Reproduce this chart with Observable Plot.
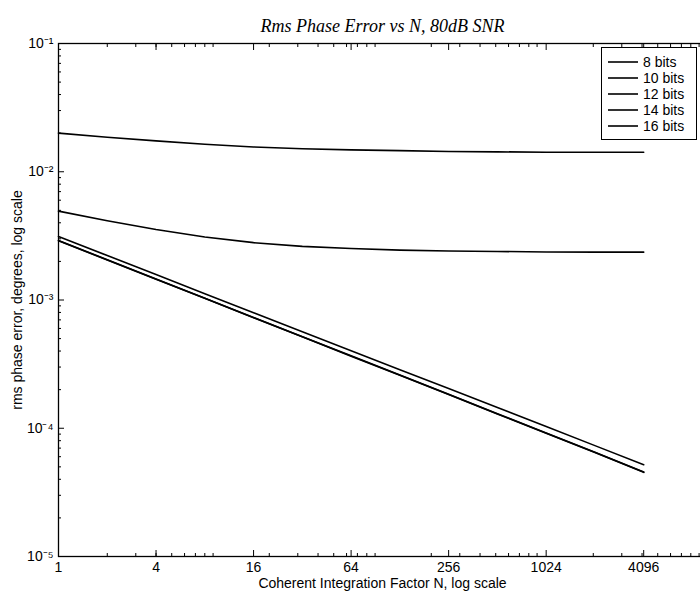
<!DOCTYPE html>
<html><head><meta charset="utf-8">
<script src="https://cdn.jsdelivr.net/npm/d3@7"></script>
<script src="https://cdn.jsdelivr.net/npm/@observablehq/plot@0.6"></script>
<style>
body{margin:0;background:#fff;}
#wrap{position:relative;width:700px;height:599px;overflow:hidden;background:#fff;}
#legend{position:absolute;left:601px;top:47px;width:96px;height:93px;border:1px solid #000;background:#fff;
  font-family:"Liberation Sans",Arial,sans-serif;font-size:14px;color:#000;box-sizing:border-box;padding-top:6px;}
#legend .row{display:flex;align-items:center;height:16px;}
#legend svg{margin-left:6px;margin-right:5px;}
</style></head><body><div id="wrap"></div>
<script>
const N = [1,2,4,8,16,32,64,128,256,512,1024,2048,4096];
const bits8  = [0.0200,0.0186,0.0174,0.0164,0.0156,0.0151,0.0148,0.0146,0.0144,0.0143,0.0142,0.0142,0.0142];
const bits10 = [0.00493,0.00415,0.00355,0.00310,0.00280,0.00262,0.00252,0.00245,0.00241,0.00239,0.00237,0.00236,0.00236];
const bits12 = [0.00313,0.00222,0.00158,0.00112,0.000795,0.000565,0.000402,0.000286,0.000204,0.000145,0.000103,0.0000732,0.0000520];
const bits14 = [0.00291,0.00206,0.00146,0.00103,0.000731,0.000518,0.000367,0.000260,0.000184,0.000130,0.0000920,0.0000651,0.0000455];
const bits16 = [0.00290,0.00205,0.00145,0.00103,0.000728,0.000516,0.000365,0.000259,0.000183,0.000129,0.0000916,0.0000648,0.0000453];
const seriesNames = ["8 bits","10 bits","12 bits","14 bits","16 bits"];
const seriesValues = [bits8,bits10,bits12,bits14,bits16];
const xTicks = [1,4,16,64,256,1024,4096];
const xTickLabels = ["1","4","16","64","256","1024","4096"];
const yTicks = [1e-5,1e-4,1e-3,1e-2,1e-1];
const yTickLabels = ["10⁻⁵","10⁻⁴","10⁻³","10⁻²","10⁻¹"];
const titleText = "Rms Phase Error vs N, 80dB SNR";
const xLabel = "Coherent Integration Factor N, log scale";
const yLabel = "rms phase error, degrees, log scale";

const rows = [];
seriesNames.forEach((s,i)=>N.forEach((n,j)=>rows.push({series:s,N:n,err:seriesValues[i][j]})));

const xMinor = [];
for (let k=0;k<4;k++) for (let m=2;m<10;m++) xMinor.push(m*Math.pow(10,k));
const yMinor = [];
for (let k=-5;k<-1;k++) for (let m=2;m<10;m++) yMinor.push(m*Math.pow(10,k));

const font = "'Liberation Sans', Arial, sans-serif";
const blank = () => "";

const chart = Plot.plot({
  width:700, height:599,
  marginTop:43, marginBottom:43, marginLeft:58, marginRight:-6,
  style:{fontFamily:font, fontSize:"14px", background:"white", color:"black", overflow:"visible"},
  x:{type:"log", domain:[1,10000], axis:null},
  y:{type:"log", domain:[1e-5,1e-1], axis:null},
  marks:[
    Plot.line(rows,{x:"N", y:"err", z:"series", stroke:"black", strokeWidth:1.6}),
    Plot.frame({stroke:"black", strokeWidth:1.3}),
    // inward ticks
    Plot.axisX(xTicks,{anchor:"bottom", tickSize:-6, tickFormat:blank, label:null}),
    Plot.axisX(xTicks,{anchor:"top", tickSize:-6, tickFormat:blank, label:null}),
    Plot.axisX(xMinor,{anchor:"bottom", tickSize:-3, tickFormat:blank, label:null}),
    Plot.axisX(xMinor,{anchor:"top", tickSize:-3, tickFormat:blank, label:null}),
    Plot.axisY(yTicks,{anchor:"left", tickSize:-6, tickFormat:blank, label:null}),
    Plot.axisY(yTicks,{anchor:"right", tickSize:-6, tickFormat:blank, label:null}),
    Plot.axisY(yMinor,{anchor:"left", tickSize:-3, tickFormat:blank, label:null}),
    Plot.axisY(yMinor,{anchor:"right", tickSize:-3, tickFormat:blank, label:null}),
    // tick labels
    Plot.text(xTicks,{x:d=>d, text:(d,i)=>xTickLabels[i], frameAnchor:"bottom", dy:6, lineAnchor:"top", fontSize:14}),
    Plot.text(yTicks,{y:d=>d, text:(d,i)=>yTickLabels[i], frameAnchor:"left", dx:-5, textAnchor:"end", fontSize:14}),
    // axis labels
    Plot.text([xLabel],{frameAnchor:"bottom", dy:22, lineAnchor:"top", fontSize:14}),
    Plot.text([yLabel],{frameAnchor:"left", dx:-41, rotate:-90, textAnchor:"middle", fontSize:14}),
    Plot.text([titleText],{frameAnchor:"top", dy:-12, lineAnchor:"bottom", fontFamily:"'Liberation Serif', 'Times New Roman', serif",
      fontStyle:"italic", fontSize:18})
  ]
});
const wrap = document.getElementById("wrap");
wrap.appendChild(chart);

const legend = document.createElement("div");
legend.id = "legend";
seriesNames.forEach(s=>{
  const r = document.createElement("div");
  r.className = "row";
  r.innerHTML = `<svg width="30" height="6"><line x1="0" y1="3" x2="30" y2="3" stroke="black" stroke-width="1.6"/></svg><span>${s}</span>`;
  legend.appendChild(r);
});
wrap.appendChild(legend);
</script></body></html>
